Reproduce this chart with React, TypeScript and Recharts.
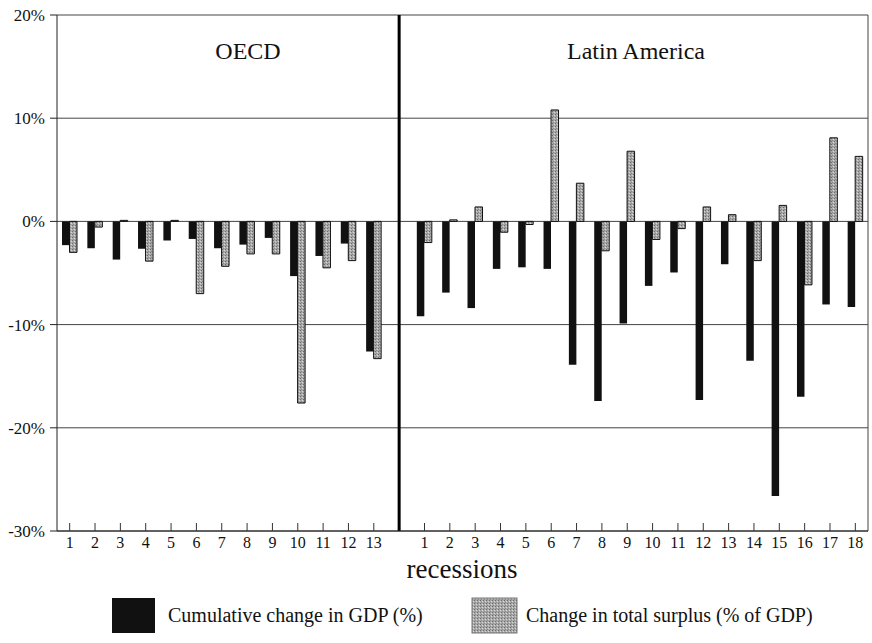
import { BarChart, Bar, XAxis, YAxis, CartesianGrid, ReferenceLine } from 'recharts';

const FONT = "'Liberation Serif', 'Times New Roman', serif";

// recession numbers shown under the axis
const oecdLabels = ['1', '2', '3', '4', '5', '6', '7', '8', '9', '10', '11', '12', '13'];
const latamLabels = [
  '1', '2', '3', '4', '5', '6', '7', '8', '9',
  '10', '11', '12', '13', '14', '15', '16', '17', '18',
];

// cumulative change in GDP (%)
const oecdGdp = [-2.3, -2.6, -3.7, -2.65, -1.85, -1.7, -2.6, -2.25, -1.6, -5.3, -3.35, -2.15, -12.6];
const latamGdp = [
  -9.2, -6.9, -8.4, -4.6, -4.45, -4.6, -13.9, -17.4, -9.9,
  -6.25, -4.95, -17.3, -4.15, -13.5, -26.6, -17.0, -8.05, -8.3,
];

// change in total surplus (% of GDP)
const oecdSurplus = [-3.0, -0.55, 0.1, -3.85, 0.1, -7.0, -4.35, -3.15, -3.15, -17.6, -4.5, -3.8, -13.3];
const latamSurplus = [
  -2.05, 0.15, 1.4, -1.05, -0.3, 10.8, 3.7, -2.85, 6.8,
  -1.75, -0.7, 1.4, 0.65, -3.8, 1.55, -6.15, 8.1, 6.3,
];

const yTicks = [20, 10, 0, -10, -20, -30];

const GAP_ID = 'gap';

const data = [
  ...oecdLabels.map((label, i) => ({ id: `o${i}`, label, gdp: oecdGdp[i], surplus: oecdSurplus[i] })),
  { id: GAP_ID, label: '', gdp: null, surplus: null },
  ...latamLabels.map((label, i) => ({ id: `l${i}`, label, gdp: latamGdp[i], surplus: latamSurplus[i] })),
];

// tick marks point up into the plot, numbers sit below the axis
const XTick = ({ x, y, payload }: any) => {
  const row = data.find((d) => d.id === payload.value);
  if (!row || !row.label) return <g />;
  return (
    <g>
      <line x1={x} x2={x} y1={y - 8} y2={y} stroke="#333" strokeWidth={1} />
      <text x={x} y={y + 17} textAnchor="middle" fontSize={16} fontFamily={FONT} fill="#111">
        {row.label}
      </text>
    </g>
  );
};

export default function App() {
  return (
    <div style={{ position: 'absolute', left: 0, top: 0, width: 872, height: 643, background: '#fff' }}>
      <BarChart
        width={872}
        height={643}
        data={data}
        margin={{ top: 15, right: 4, left: 0, bottom: 82 }}
        barGap={0}
        barCategoryGap={5}
      >
        <CartesianGrid
          stroke="#444"
          strokeWidth={1}
          verticalCoordinatesGenerator={({ offset }: any) => [offset.left + offset.width]}
        />
        <XAxis
          dataKey="id"
          interval={0}
          tickLine={false}
          tickSize={0}
          tickMargin={0}
          tick={<XTick />}
          axisLine={{ stroke: '#222' }}
          height={30}
        />
        <YAxis
          type="number"
          domain={[-30, 20]}
          ticks={yTicks}
          interval={0}
          width={57}
          tickSize={7}
          tickMargin={5}
          tickFormatter={(v: number) => `${v}%`}
          tick={{ fontSize: 17, fontFamily: FONT, fill: '#111' }}
          axisLine={{ stroke: '#222' }}
          tickLine={{ stroke: '#222' }}
        />
        <Bar dataKey="gdp" fill="#111" barSize={7.5} isAnimationActive={false} />
        <Bar
          dataKey="surplus"
          fill="url(#stipple)"
          stroke="#111"
          strokeWidth={1}
          barSize={7.5}
          isAnimationActive={false}
        />
        <ReferenceLine x={GAP_ID} stroke="#000" strokeWidth={3} />
      </BarChart>

      <svg
        width={872}
        height={643}
        style={{ position: 'absolute', left: 0, top: 0, pointerEvents: 'none' }}
      >
        <defs>
          <pattern id="stipple" width="3" height="3" patternUnits="userSpaceOnUse">
            <rect width="3" height="3" fill="#a9a9a9" />
            <rect x="0" y="0" width="1" height="1" fill="#6c6c6c" />
            <rect x="2" y="1" width="1" height="1" fill="#d8d8d8" />
            <rect x="1" y="2" width="1" height="1" fill="#8a8a8a" />
          </pattern>
        </defs>
        <g fontFamily={FONT} fill="#111">
          <text x={248} y={59} fontSize={24} textAnchor="middle">OECD</text>
          <text x={636} y={59} fontSize={24} textAnchor="middle">Latin America</text>
          <text x={462} y={578} fontSize={27} textAnchor="middle">recessions</text>

          <rect x={112} y={598} width={43} height={35} fill="#111" />
          <text x={168} y={622} fontSize={20}>Cumulative change in GDP (%)</text>
          <rect x={472} y={598} width={45} height={35} fill="url(#stipple)" stroke="#777" strokeWidth={1} />
          <text x={526} y={622} fontSize={20}>Change in total surplus (% of GDP)</text>
        </g>
      </svg>
    </div>
  );
}
